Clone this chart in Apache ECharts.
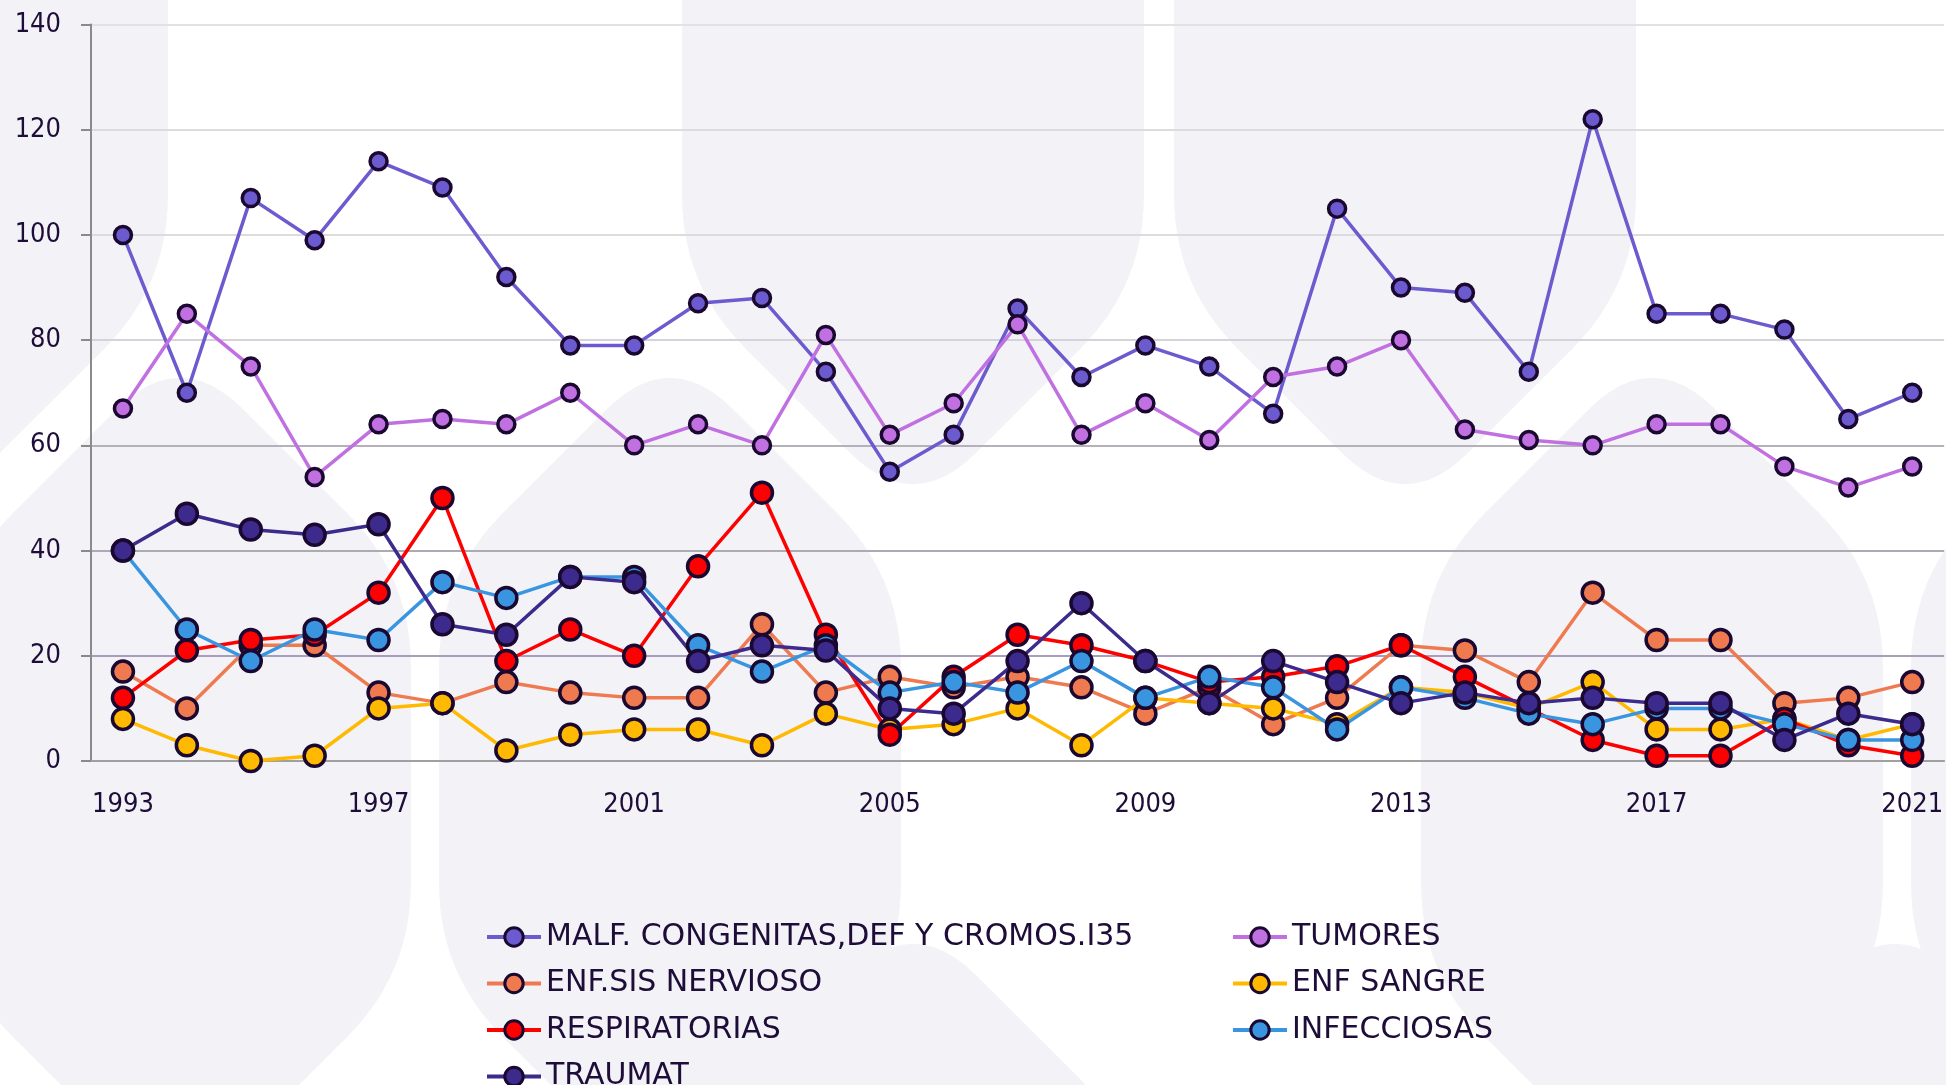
<!DOCTYPE html>
<html>
<head>
<meta charset="utf-8">
<style>
  html, body { margin: 0; padding: 0; background: #fff; }
  #chart { width: 1946px; height: 1085px; }
</style>
<script src="https://cdn.jsdelivr.net/npm/echarts@6/dist/echarts.min.js"></script>
</head>
<body>
<div id="chart"></div>
<script>
// values
const years = ['1993', '1994', '1995', '1996', '1997', '1998', '1999', '2000', '2001', '2002',
  '2003', '2004', '2005', '2006', '2007', '2008', '2009', '2010', '2011', '2012',
  '2013', '2014', '2015', '2016', '2017', '2018', '2019', '2020', '2021'];
const malformaciones = [100, 70, 107, 99, 114, 109, 92, 79, 79, 87, 88, 74, 55, 62, 86, 73, 79, 75, 66, 105, 90, 89, 74, 122, 85, 85, 82, 65, 70];
const tumores = [67, 85, 75, 54, 64, 65, 64, 70, 60, 64, 60, 81, 62, 68, 83, 62, 68, 61, 73, 75, 80, 63, 61, 60, 64, 64, 56, 52, 56];
const nervioso = [17, 10, 22, 22, 13, 11, 15, 13, 12, 12, 26, 13, 16, 14, 16, 14, 9, 14, 7, 12, 22, 21, 15, 32, 23, 23, 11, 12, 15];
const sangre = [8, 3, 0, 1, 10, 11, 2, 5, 6, 6, 3, 9, 6, 7, 10, 3, 12, 11, 10, 7, 14, 13, 10, 15, 6, 6, 8, 4, 7];
const respiratorias = [12, 21, 23, 24, 32, 50, 19, 25, 20, 37, 51, 24, 5, 16, 24, 22, 19, 15, 16, 18, 22, 16, 10, 4, 1, 1, 8, 3, 1];
const infecciosas = [40, 25, 19, 25, 23, 34, 31, 35, 35, 22, 17, 22, 13, 15, 13, 19, 12, 16, 14, 6, 14, 12, 9, 7, 10, 10, 7, 4, 4];
const traumat = [40, 47, 44, 43, 45, 26, 24, 35, 34, 19, 22, 21, 10, 9, 19, 30, 19, 11, 19, 15, 11, 13, 11, 12, 11, 11, 4, 9, 7];

const TICK_FONT = "'DejaVu Sans Condensed', 'DejaVu Sans', sans-serif";
const LEGEND_FONT = "'DejaVu Sans', sans-serif";
const TEXT = '#1e0d38';
const EDGE = '#1a0830';
const SHAPE = '#f3f3f7';

// rounded polygon (corners sampled as quadratic curves) for the background pattern
function roundedPoints(pts, r) {
  const n = pts.length;
  const out = [];
  for (let i = 0; i < n; i++) {
    const p = pts[i];
    const a = pts[(i - 1 + n) % n];
    const b = pts[(i + 1) % n];
    const la = Math.hypot(a[0] - p[0], a[1] - p[1]);
    const lb = Math.hypot(b[0] - p[0], b[1] - p[1]);
    const ra = Math.min(r, la / 2);
    const rb = Math.min(r, lb / 2);
    const s = [p[0] + (a[0] - p[0]) * ra / la, p[1] + (a[1] - p[1]) * ra / la];
    const e = [p[0] + (b[0] - p[0]) * rb / lb, p[1] + (b[1] - p[1]) * rb / lb];
    for (let k = 0; k <= 12; k++) {
      const t = k / 12;
      const u = 1 - t;
      out.push([
        u * u * s[0] + 2 * u * t * p[0] + t * t * e[0],
        u * u * s[1] + 2 * u * t * p[1] + t * t * e[1],
      ]);
    }
  }
  return out;
}
const W = 231;
const shieldDown = cx => [[cx - W, -400], [cx + W, -400], [cx + W, 285], [cx, 516], [cx - W, 285]];
const hexUp = cx => [[cx, 346], [cx + W, 577], [cx + W, 973], [cx, 1204], [cx - W, 973], [cx - W, 577]];
const houseUp = cx => [[cx, 912], [cx + W, 1143], [cx + W, 1500], [cx - W, 1500], [cx - W, 1143]];

const shapes = [
  ...[-63, 913, 1405].map(shieldDown),
  ...[180, 670, 1652, 2142].map(hexUp),
  ...[913, 1895].map(houseUp),
];

function lineSeries(name, data, color, size) {
  return {
    name,
    type: 'line',
    data,
    symbol: 'circle',
    symbolSize: size,
    lineStyle: { color, width: 3.5 },
    itemStyle: { color, borderColor: EDGE, borderWidth: 3.5 },
    emphasis: { disabled: true },
  };
}

const legendBase = {
  orient: 'vertical',
  top: 922,
  height: 220,
  padding: 0,
  itemWidth: 54,
  itemHeight: 23,
  itemGap: 16.5,
  lineStyle: { width: 4 },
  itemStyle: { borderWidth: 3 },
  textStyle: { fontFamily: LEGEND_FONT, fontSize: 30, color: TEXT },
};

const chart = echarts.init(document.getElementById('chart'));
chart.setOption({
  animation: false,
  backgroundColor: '#fff',
  graphic: shapes.map(pts => ({
    type: 'polygon',
    silent: true,
    z: -100,
    shape: { points: roundedPoints(pts, 90) },
    style: { fill: SHAPE },
  })),
  grid: { left: 91, top: 24.5, right: -4, bottom: 324 },
  legend: [
    {
      ...legendBase,
      left: 485,
      data: ['MALF. CONGENITAS,DEF Y CROMOS.I35', 'ENF.SIS NERVIOSO', 'RESPIRATORIAS', 'TRAUMAT'],
    },
    {
      ...legendBase,
      left: 1231,
      data: ['TUMORES', 'ENF SANGRE', 'INFECCIOSAS'],
    },
  ],
  xAxis: {
    type: 'category',
    data: years,
    boundaryGap: true,
    axisLine: { lineStyle: { color: '#a0a0a0', width: 2 } },
    axisTick: { interval: 0, length: 8, lineStyle: { color: '#a0a0a0', width: 2 } },
    axisLabel: { interval: 3, margin: 30, fontFamily: TICK_FONT, fontSize: 27, color: TEXT },
  },
  yAxis: {
    type: 'value',
    min: 0,
    max: 140,
    interval: 20,
    axisLine: { show: true, lineStyle: { color: '#8a8a8a', width: 2 } },
    axisTick: { show: true, length: 10, lineStyle: { color: '#8a8a8a', width: 2 } },
    axisLabel: { margin: 30, fontFamily: TICK_FONT, fontSize: 27, color: TEXT },
    splitLine: {
      lineStyle: {
        width: 2,
        color: ['#a8a8a8', '#a99cbc', '#aeaab4', '#b5b1bb', '#d5d3d9', '#dcdcdc', '#dcdcdc', '#e2e2e2'],
      },
    },
  },
  series: [
    lineSeries('MALF. CONGENITAS,DEF Y CROMOS.I35', malformaciones, '#6b5bcf', 17),
    lineSeries('TUMORES', tumores, '#c070e0', 17),
    lineSeries('ENF.SIS NERVIOSO', nervioso, '#ef7a50', 21),
    lineSeries('ENF SANGRE', sangre, '#ffb900', 21),
    lineSeries('RESPIRATORIAS', respiratorias, '#ff0000', 21),
    lineSeries('INFECCIOSAS', infecciosas, '#3a95e0', 21),
    lineSeries('TRAUMAT', traumat, '#3c2a8c', 21),
  ],
});
</script>
</body>
</html>
